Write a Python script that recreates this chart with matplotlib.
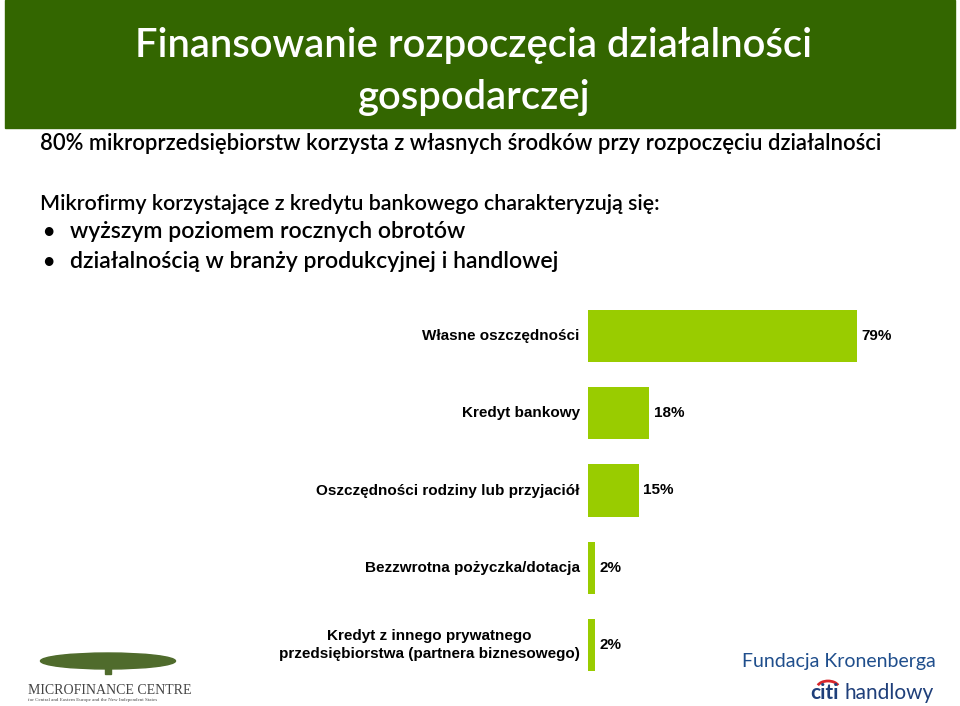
import matplotlib
matplotlib.use('Agg')
import matplotlib.pyplot as plt
from matplotlib.patches import Rectangle, Ellipse, Arc
from matplotlib import font_manager

# data
categories = ['Własne oszczędności', 'Kredyt bankowy', 'Oszczędności rodziny lub przyjaciół',
              'Bezzwrotna pożyczka/dotacja', 'Kredyt z innego prywatnego\nprzedsiębiorstwa (partnera biznesowego)']
values = [79, 18, 15, 2, 2]
title_lines = ['Finansowanie rozpoczęcia działalności', 'gospodarczej']
intro = '80% mikroprzedsiębiorstw korzysta z własnych środków przy rozpoczęciu działalności'
lead = 'Mikrofirmy korzystające z kredytu bankowego charakteryzują się:'
bullets = ['wyższym poziomem rocznych obrotów', 'działalnością w branży produkcyjnej i handlowej']

names = {f.name for f in font_manager.fontManager.ttflist}
narrow = 'Liberation Sans Narrow' if 'Liberation Sans Narrow' in names else 'Liberation Sans'
body = ['Lato', 'DejaVu Sans']

W, H = 960, 706
fig = plt.figure(figsize=(W / 100, H / 100), dpi=100)

def px(x, y):
    return x / W, 1 - y / H

# title band
fig.patches.append(Rectangle(px(5, 128), 950 / W, 128 / H, transform=fig.transFigure,
                             color='#336600', zorder=0))
fig.text(*px(474, 45), title_lines[0], color='white', fontsize=28.8, family=body,
         fontweight='semibold', ha='center', va='center')
fig.text(*px(474, 97), title_lines[1], color='white', fontsize=28.8, family=body,
         fontweight='semibold', ha='center', va='center')

tkw = dict(family=body, va='center', color='black', fontweight='semibold')
fig.text(*px(40, 144), intro, fontsize=15.8, **tkw)
fig.text(*px(40, 204), lead, fontsize=15.4, **tkw)
for i, b in enumerate(bullets):
    y = 232 + i * 30
    fig.text(*px(42, y), '•', fontsize=15.4, **tkw)
    fig.text(*px(70, y), b, fontsize=16.6, **tkw)

# bar chart
ax = fig.add_axes([588 / W, 1 - 683.5 / H, 340 / W, 386 / H])
ypos = list(range(len(values)))
ax.barh(ypos, values, height=0.675, color='#99CC00')
ax.set_xlim(0, 100)
ax.set_ylim(len(values) - 0.5, -0.5)
ax.axis('off')
for y, v, c in zip(ypos, values, categories):
    ax.text(v + 1.3, y, f'{v}%', va='center', ha='left', fontsize=11,
            family=narrow, fontweight='bold')
    ax.text(-2.4, y, c, va='center', ha='right', fontsize=11, family=narrow,
            fontweight='bold', multialignment='center', linespacing=1.35)

# logos
fig.patches.append(Ellipse(px(108, 661), 135 / W, 16 / H, transform=fig.transFigure,
                           color='#4f6b2c', zorder=1))
fig.patches.append(Rectangle(px(105, 674), 6 / W, 12 / H, transform=fig.transFigure,
                             color='#4f6b2c', zorder=1))
fig.text(*px(28, 690), 'MICROFINANCE CENTRE', fontsize=10, family='Liberation Serif',
         color='#444444', va='center')
fig.text(*px(28, 700), 'for Central and Eastern Europe and the New Independent States',
         fontsize=3.6, family='Liberation Serif', color='#444444', va='center')
fig.text(*px(742, 661), 'Fundacja Kronenberga', fontsize=14, family=body,
         color='#1f4e8c', va='center')
fig.patches.append(Arc(px(828, 688), 22 / W, 14 / H, theta1=20, theta2=160,
                       transform=fig.transFigure, color='#d7262b', lw=2))
fig.text(*px(810, 693), 'citi', fontsize=15, family=body, color='#1f3f7a',
         fontweight='bold', va='center')
fig.text(*px(845, 693), 'handlowy', fontsize=15, family=body, color='#1f3f7a', va='center')

fig.savefig('out.png', dpi=100)
